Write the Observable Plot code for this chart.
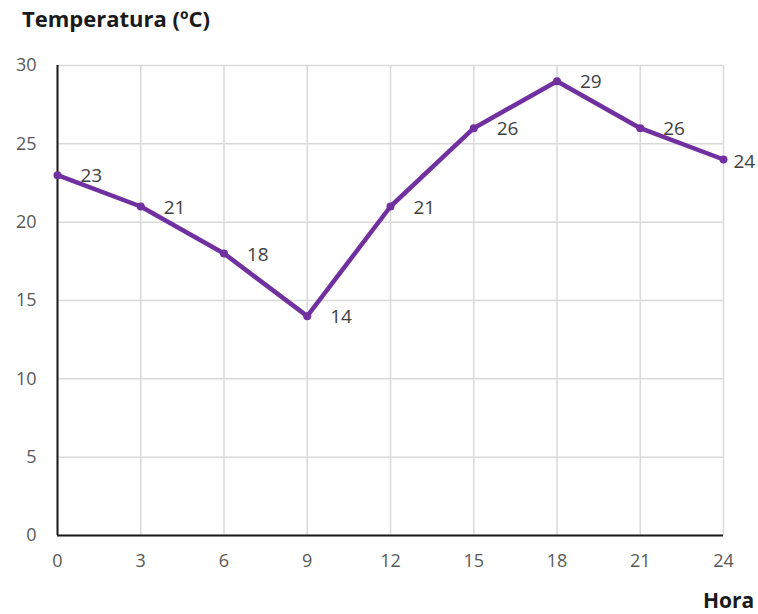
<!DOCTYPE html>
<html>
<head>
<meta charset="utf-8">
<script src="https://cdn.jsdelivr.net/npm/d3@7"></script>
<script src="https://cdn.jsdelivr.net/npm/@observablehq/plot@0.6"></script>
<style>
  body { margin: 0; background: #fff; }
  #wrap { position: relative; width: 758px; height: 614px; overflow: hidden; font-family: "Open Sans", "Noto Sans", sans-serif; }
  #title { position: absolute; left: 22px; top: 3px; font-size: 22px; font-weight: bold; color: #1a1a1a; white-space: nowrap; }
  #xlabel { position: absolute; left: 703px; top: 586px; font-size: 21px; font-weight: bold; color: #1a1a1a; }
  #chart svg g[aria-label$="tick label"] { font-size: 18px; }
</style>
</head>
<body>
<div id="wrap">
  <div id="chart"></div>
  <div id="title">Temperatura (ºC)</div>
  <div id="xlabel">Hora</div>
</div>
<script>
const hours = [0, 3, 6, 9, 12, 15, 18, 21, 24];
const temps = [23, 21, 18, 14, 21, 26, 29, 26, 24];
const xTicks = [0, 3, 6, 9, 12, 15, 18, 21, 24];
const yTicks = [0, 5, 10, 15, 20, 25, 30];

const data = hours.map((h, i) => ({hora: h, temp: temps[i]}));
const lastIndex = data.length - 1;

const chart = Plot.plot({
  width: 758,
  height: 614,
  marginLeft: 57,
  marginRight: 35,
  marginTop: 65,
  marginBottom: 79,
  style: { fontFamily: "'Open Sans', 'Noto Sans', sans-serif", fontSize: "18px", color: "#595959", background: "#fff" },
  x: { domain: [0, 24], ticks: xTicks, label: null },
  y: { domain: [0, 30], ticks: yTicks, label: null },
  marks: [
    Plot.gridX(xTicks, { stroke: "#d9d9d9", strokeOpacity: 1, strokeWidth: 1.5 }),
    Plot.gridY(yTicks, { stroke: "#d9d9d9", strokeOpacity: 1, strokeWidth: 1.5 }),
    Plot.axisX({ ticks: xTicks, tickSize: 0, tickPadding: 19, fill: "#595959", fontSize: 18, label: null }),
    Plot.axisY({ ticks: yTicks, tickSize: 0, tickPadding: 21, fill: "#595959", fontSize: 18, label: null }),
    Plot.ruleX([0], { stroke: "#1a1a1a", strokeWidth: 2 }),
    Plot.ruleY([0], { stroke: "#1a1a1a", strokeWidth: 2 }),
    Plot.line(data, { x: "hora", y: "temp", stroke: "#7030a0", strokeWidth: 4.5, strokeLinejoin: "round" }),
    Plot.dot(data, { x: "hora", y: "temp", r: 4, fill: "#7030a0", stroke: "none" }),
    Plot.text(data.filter((d, i) => i < lastIndex), { x: "hora", y: "temp", text: d => String(d.temp), textAnchor: "start", dx: 23, dy: 1, fill: "#404040", fontSize: 19 }),
    Plot.text(data.filter((d, i) => i === lastIndex), { x: "hora", y: "temp", text: d => String(d.temp), textAnchor: "start", dx: 10, dy: 2, fill: "#404040", fontSize: 19 })
  ]
});
document.getElementById("chart").appendChild(chart);
</script>
</body>
</html>
